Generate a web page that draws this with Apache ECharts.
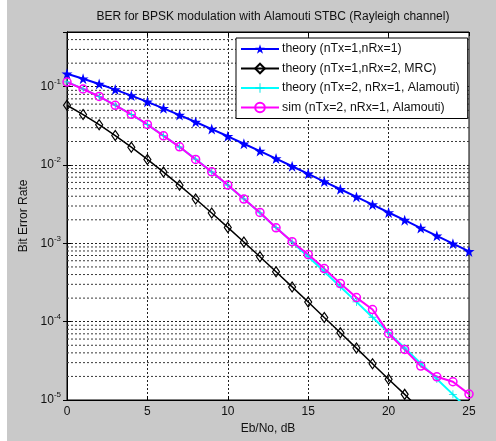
<!DOCTYPE html>
<html>
<head>
<meta charset="utf-8">
<script src="https://cdn.jsdelivr.net/npm/echarts@6/dist/echarts.min.js"></script>
<style>
    html, body { margin: 0; padding: 0; background: #fff; }
    #chart { position: absolute; left: 7px; top: 0; width: 489px; height: 441px; background: #c9c9c9; }
</style>
</head>
<body>
<div id="chart"></div>
<script>
var ebNo = [0, 1, 2, 3, 4, 5, 6, 7, 8, 9, 10, 11, 12, 13, 14, 15, 16, 17, 18, 19, 20, 21, 22, 23, 24, 25];
// theory (nTx=1,nRx=1)
var berTheory11 = [0.1464, 0.1267, 0.1085, 0.0919, 0.0771, 0.0642, 0.0530, 0.0435, 0.0355, 0.0288, 0.0233, 0.0187, 0.0151, 0.0121,
    0.00966, 0.00772, 0.00616, 0.00491, 0.00392, 0.00312, 0.00248, 0.00198, 0.00157, 0.00125, 0.00099, 0.00079];
// theory (nTx=1,nRx=2, MRC)
var berMrc = [0.0580, 0.0441, 0.0328, 0.0238, 0.0169, 0.0118, 0.00813, 0.00551, 0.00369, 0.00244, 0.00160, 0.00104, 0.000674, 0.000434,
    0.000278, 0.000178, 0.000113, 0.0000721, 0.0000460, 0.0000291, 0.0000184, 0.0000118, 0.0000074, 0.0000047, 0.0000029, 0.0000019];
// theory (nTx=2, nRx=1, Alamouti)
var berAlamouti = [0.1151, 0.0939, 0.0748, 0.0582, 0.0442, 0.0328, 0.0238, 0.0170, 0.0119, 0.00815, 0.00553, 0.00370, 0.00245, 0.00160,
    0.00104, 0.000676, 0.000436, 0.000279, 0.000179, 0.000114, 0.0000723, 0.0000461, 0.0000292, 0.0000185, 0.0000118, 0.0000074];
// sim (nTx=2, nRx=1, Alamouti)
var berSim = [0.1148, 0.0936, 0.0751, 0.0580, 0.0445, 0.0330, 0.0236, 0.0171, 0.0118, 0.00820, 0.00556, 0.00368, 0.00248, 0.00158,
    0.00105, 0.000720, 0.000476, 0.000307, 0.000203, 0.000143, 0.0000708, 0.0000442, 0.0000271, 0.0000198, 0.0000171, 0.0000119];

var minorMantissa = [2, 3, 4, 5, 6, 7, 8, 9];
var minorExponents = [-5, -4, -3, -2, -1];
var legendNames = ['theory (nTx=1,nRx=1)', 'theory (nTx=1,nRx=2, MRC)', 'theory (nTx=2, nRx=1, Alamouti)', 'sim (nTx=2, nRx=1, Alamouti)'];

var FONT = 'Liberation Sans, Arial, sans-serif';
var STAR = 'path://M50,0 L61.8,35.3 L98.9,35.3 L68.9,57.1 L80.3,92.7 L50,70.8 L19.7,92.7 L31.1,57.1 L1.1,35.3 L38.2,35.3 Z';
var PLUS = 'path://M45,0 L55,0 L55,45 L100,45 L100,55 L55,55 L55,100 L45,100 L45,55 L0,55 L0,45 L45,45 Z';

function toPairs(arr) {
    var out = [];
    for (var i = 0; i < arr.length; i++) {
        out.push([ebNo[i], arr[i]]);
    }
    return out;
}

var seriesList = [];

// minor grid of the log axis (2..9 x 10^k), one short series per line
for (var e = 0; e < minorExponents.length; e++) {
    for (var m = 0; m < minorMantissa.length; m++) {
        var v = minorMantissa[m] * Math.pow(10, minorExponents[e]);
        if (v < 0.5) {
            seriesList.push({
                name: 'grid',
                type: 'line',
                data: [[0, v], [25, v]],
                silent: true,
                symbol: 'none',
                lineStyle: {color: '#3a3a3a', type: [2, 2], width: 1},
                z: 1
            });
        }
    }
}

seriesList.push({
    name: legendNames[0],
    type: 'line',
    data: toPairs(berTheory11),
    symbol: STAR,
    symbolSize: 11,
    lineStyle: {color: '#0000ff', width: 2},
    itemStyle: {color: '#0000ff'}
}, {
    name: legendNames[1],
    type: 'line',
    data: toPairs(berMrc),
    symbol: 'diamond',
    symbolSize: [7, 10],
    lineStyle: {color: '#000', width: 1.5},
    itemStyle: {color: 'rgba(255,255,255,0)', borderColor: '#000', borderWidth: 1.2}
}, {
    name: legendNames[2],
    type: 'line',
    data: toPairs(berAlamouti),
    symbol: PLUS,
    symbolSize: 8,
    lineStyle: {color: '#00ffff', width: 2},
    itemStyle: {color: '#00e5e5'}
}, {
    name: legendNames[3],
    type: 'line',
    data: toPairs(berSim),
    symbol: 'circle',
    symbolSize: 8,
    lineStyle: {color: '#ff00ff', width: 2},
    itemStyle: {color: 'rgba(255,255,255,0)', borderColor: '#ff00ff', borderWidth: 1.5}
});

var myChart = echarts.init(document.getElementById('chart'));

var option = {
    animation: false,
    backgroundColor: '#c9c9c9',
    textStyle: {fontFamily: FONT},
    title: {
        text: 'BER for BPSK modulation with Alamouti STBC (Rayleigh channel)',
        left: 261,
        textAlign: 'center',
        top: 6,
        textStyle: {fontSize: 12, fontWeight: 'normal', color: '#111', fontFamily: FONT}
    },
    grid: {
        left: 60,
        right: 27,
        top: 32,
        bottom: 41,
        show: true,
        backgroundColor: '#fff',
        borderColor: '#000',
        borderWidth: 1
    },
    legend: {
        data: legendNames,
        orient: 'vertical',
        left: 229,
        top: 38,
        itemWidth: 38,
        itemHeight: 12,
        itemGap: 7.5,
        padding: [5, 8, 5, 4],
        z: 10,
        backgroundColor: '#fff',
        borderColor: '#000',
        borderWidth: 1,
        textStyle: {fontSize: 12.3, color: '#111', fontFamily: FONT, padding: [0, 0, 0, -2]}
    },
    xAxis: [{
        type: 'value',
        min: 0,
        max: 25,
        interval: 5,
        name: 'Eb/No, dB',
        nameLocation: 'middle',
        nameGap: 20,
        nameTextStyle: {fontSize: 12, color: '#111'},
        axisLine: {lineStyle: {color: '#000', width: 1}},
        axisTick: {inside: true, length: 4, lineStyle: {color: '#000'}},
        axisLabel: {fontSize: 12, color: '#111', margin: 6},
        splitLine: {show: true, showMinLine: false, showMaxLine: false, lineStyle: {color: '#222', type: [2, 2], width: 1}}
    }, {
        type: 'value',
        position: 'top',
        min: 0,
        max: 25,
        interval: 5,
        axisLine: {lineStyle: {color: '#000', width: 1}},
        axisTick: {inside: true, length: 4, lineStyle: {color: '#000'}},
        axisLabel: {show: false},
        splitLine: {show: false}
    }],
    yAxis: [{
        type: 'log',
        logBase: 10,
        min: 0.00001,
        max: 0.5,
        name: 'Bit Error Rate',
        nameLocation: 'middle',
        nameGap: 22,
        nameTextStyle: {fontSize: 12, color: '#111'},
        axisLine: {show: true, lineStyle: {color: '#000', width: 1}},
        axisTick: {inside: true, length: 4, lineStyle: {color: '#000'}},
        axisLabel: {
            color: '#111',
            margin: 6,
            formatter: function (value) {
                var ex = Math.round(Math.log10(value));
                if (Math.abs(value - Math.pow(10, ex)) / value > 0.01) {
                    return '';
                }
                return '{b|10}{s|' + ex + '}';
            },
            rich: {
                b: {fontSize: 12, color: '#111', fontFamily: FONT},
                s: {fontSize: 8, color: '#111', fontFamily: FONT, padding: [0, 0, 10, 0]}
            }
        },
        splitLine: {show: true, showMinLine: false, showMaxLine: false, lineStyle: {color: '#222', type: [2, 2], width: 1}}
    }, {
        type: 'log',
        logBase: 10,
        min: 0.00001,
        max: 0.5,
        position: 'right',
        axisLine: {show: true, lineStyle: {color: '#000', width: 1}},
        axisTick: {inside: true, length: 4, lineStyle: {color: '#000'}},
        axisLabel: {show: false},
        splitLine: {show: false}
    }],
    series: seriesList
};

myChart.setOption(option);
</script>
</body>
</html>
